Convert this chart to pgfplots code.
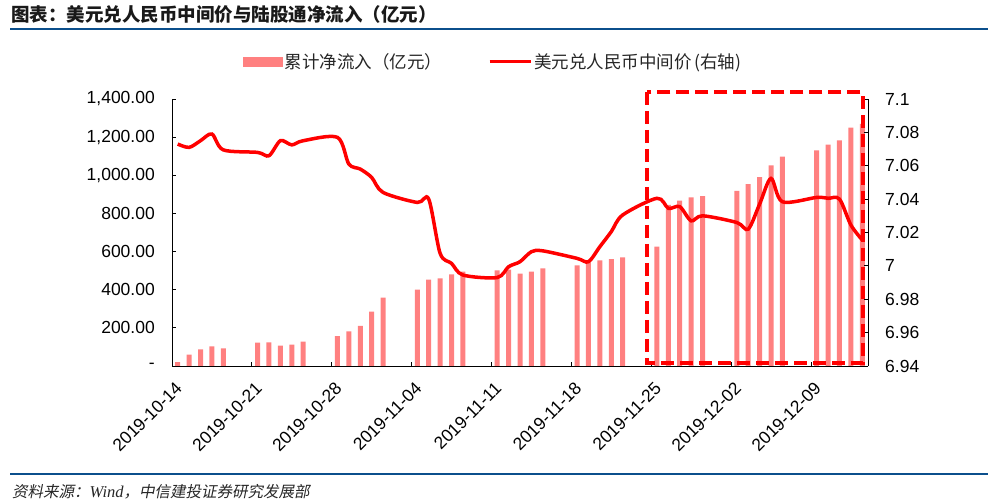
\documentclass[border=0pt]{standalone}
\usepackage{pgfplots}
\pgfplotsset{compat=1.18}
\usepackage{fontspec}
\setmainfont{Liberation Sans}
\newfontfamily\cjk{Noto Sans CJK SC}
\newfontfamily\cjkit[FakeSlant=0.2]{Noto Sans CJK SC}
\newfontfamily\seri{Liberation Serif}
\definecolor{barred}{HTML}{FF8080}
\definecolor{rulblue}{HTML}{0B4F8C}
\begin{document}
\begin{tikzpicture}
\path[use as bounding box] (0bp,0bp) rectangle (988bp,502bp);
\node[anchor=west, inner sep=0pt, text=black!90] at (11bp,488bp) {\fontsize{18.5bp}{18.5bp}\selectfont\cjk\bfseries 图表：美元兑人民币中间价与陆股通净流入（亿元）};
\draw[rulblue, line width=2bp] (10bp,472.5bp) -- (988bp,472.5bp);
\draw[rulblue, line width=2bp] (10bp,28.3bp) -- (988bp,28.3bp);
\node[anchor=west, inner sep=0pt, text=black!85] at (12bp,10.5bp) {\fontsize{15.5bp}{15.5bp}\selectfont\cjkit 资料来源：{\seri\itshape\fontsize{16.5bp}{16.5bp}\selectfont Wind}，中信建投证券研究发展部};

\begin{axis}[
  at={(172bp,136bp)}, anchor=south west, scale only axis,
  width=696bp, height=267bp,
  xmin=-0.5, xmax=60.5, ymin=0, ymax=1400,
  axis x line*=bottom, axis y line*=left,
  axis line style={black, line width=0.9bp},
  tick style={black, line width=0.9bp},
  tick align=inside, major tick length=4bp,
  xtick={-0.5,6.5,13.5,20.5,27.5,34.5,41.5,48.5,55.5},
  xticklabels={2019-10-14,2019-10-21,2019-10-28,2019-11-04,2019-11-11,2019-11-18,2019-11-25,2019-12-02,2019-12-09},
  ytick={0,200,400,600,800,1000,1200,1400},
  yticklabels={-,200.00,400.00,600.00,800.00,{1,000.00},{1,200.00},{1,400.00}},
  /pgf/number format/assume math mode=true,
  yticklabel style={font=\fontsize{17.5bp}{17.5bp}\selectfont, inner sep=0pt, anchor=east, xshift=-17bp},
  xticklabel style={font=\fontsize{17.5bp}{17.5bp}\selectfont, inner sep=0pt, xshift=7bp, yshift=-19bp, rotate=45, anchor=east},
]
\addplot[ybar, bar width=5bp, bar shift=0pt, fill=barred, draw=none] coordinates {
(0,20) (1,59) (2,87) (3,103) (4,93)
(7,122) (8,124) (9,107) (10,112) (11,128)
(14,156) (15,182) (16,210) (17,285) (18,358)
(21,400) (22,453) (23,460) (24,481) (25,495)
(28,502) (29,505) (30,484) (31,495) (32,512)
(35,528) (36,545) (37,554) (38,561) (39,570)
(42,626) (43,845) (44,867) (45,884) (46,891)
(49,918) (50,953) (51,991) (52,1052) (53,1098)
(56,1131) (57,1161) (58,1183) (59,1250) (60,1270)
};
\end{axis}

\begin{axis}[
  at={(172bp,136bp)}, anchor=south west, scale only axis,
  width=696bp, height=267bp,
  xmin=-0.5, xmax=60.5, ymin=6.94, ymax=7.1,
  axis y line*=right, axis x line=none,
  axis line style={black, line width=0.9bp},
  tick style={black, line width=0.9bp},
  tick align=inside, major tick length=4bp,
  ytick={6.94,6.96,6.98,7,7.02,7.04,7.06,7.08,7.1},
  yticklabels={6.94,6.96,6.98,7,7.02,7.04,7.06,7.08,7.1},
  /pgf/number format/assume math mode=true,
  yticklabel style={font=\fontsize{17.5bp}{17.5bp}\selectfont, inner sep=0pt, anchor=west, xshift=17bp},
  clip=false,
  legend style={at={(0.102,1.1386)}, anchor=west, draw=none, fill=none, inner sep=0pt,
    font=\fontsize{17.5bp}{17.5bp}\selectfont\cjk, text=black!85,
    /tikz/every even column/.append style={column sep=44bp}},
  legend columns=2,
]
\addlegendimage{legend image code/.code={\fill[barred] (0bp,-4.5bp) rectangle (39bp,4.5bp);}}
\addlegendentry{累计净流入（亿元）}
\addplot[red, line width=3.5bp, smooth, tension=0.5,
  legend image code/.code={\draw[red, line width=3bp] (0bp,0bp) -- (41bp,0bp);}] coordinates {
(0,7.073) (1,7.071) (2,7.075) (3,7.079) (4,7.0695)
(7,7.068) (8,7.066) (9,7.075) (10,7.0725) (11,7.075)
(14,7.077) (15,7.061) (16,7.058) (17,7.053) (18,7.044)
(21,7.038) (22,7.040) (23,7.0075) (24,7.0015) (25,6.9945)
(28,6.993) (29,6.9995) (30,7.0025) (31,7.0085) (32,7.009)
(35,7.0045) (36,7.0025) (37,7.0115) (38,7.0205) (39,7.0305)
(42,7.0405) (43,7.0345) (44,7.0355) (45,7.027) (46,7.030)
(49,7.026) (50,7.022) (51,7.037) (52,7.0524) (53,7.0384)
(56,7.041) (57,7.0405) (58,7.040) (59,7.0245) (60,7.0155)
};
\addlegendentry{美元兑人民币中间价\,(右轴)}
\draw[red, line width=3.5bp, dash pattern=on 13bp off 6bp] (axis cs:41.14,7.1042) rectangle (axis cs:60.04,6.9418);
\end{axis}
\end{tikzpicture}
\end{document}
